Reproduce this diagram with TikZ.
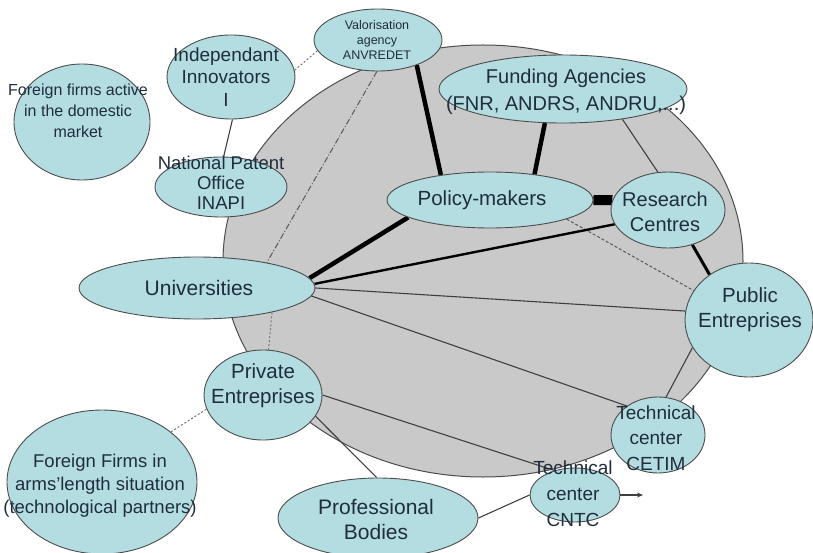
\documentclass[tikz,border=0pt]{standalone}
\usepackage{fontspec}
\setmainfont{Liberation Sans}
\usetikzlibrary{shapes.geometric,arrows.meta}
\pgfdeclarelayer{bg}
\pgfdeclarelayer{edges}
\pgfsetlayers{bg,edges,main}
\definecolor{cyanish}{HTML}{B4DDE2}
\definecolor{coregray}{HTML}{C9C9C9}
\definecolor{textc}{HTML}{1F2D3D}
\newcommand{\fsz}[2]{\fontsize{#1}{#2}\selectfont}
\begin{document}
\begin{tikzpicture}[x=1pt,y=-1pt,
  blob/.style={ellipse, draw=black!70, line width=0.9pt, fill=cyanish, inner sep=0pt},
  txt/.style={align=center, text=textc, inner sep=0pt},
  lnthin/.style={draw=black!75, line width=1.1pt},
  lnmid/.style={draw=black, line width=2.4pt},
  lnthick/.style={draw=black, line width=4.5pt},
  lnbar/.style={draw=black, line width=10pt},
  lndot/.style={draw=black!55, line width=1pt, dash pattern=on 2pt off 2pt},
  lndash/.style={draw=black!65, line width=1pt, dash pattern=on 3pt off 2pt},
  lndashdot/.style={draw=black!65, line width=1pt, dash pattern=on 6pt off 2pt on 1pt off 2pt}]
\useasboundingbox (0,0) rectangle (813,553);
\clip (0,0) rectangle (813,553);

\begin{pgfonlayer}{bg}
\node[ellipse, draw=black!70, line width=1pt, fill=coregray, minimum width=520pt, minimum height=432pt, inner sep=0pt] (core) at (483,261) {};
\end{pgfonlayer}

% ellipses
\node[blob, minimum width=136pt, minimum height=116pt] (ffa) at (82,122) {};
\node[blob, minimum width=128pt, minimum height=84pt] (innov) at (231,77) {};
\node[blob, minimum width=128pt, minimum height=62pt] (anvr) at (378,40) {};
\node[blob, minimum width=132pt, minimum height=60pt] (inapi) at (221,187) {};
\node[blob, minimum width=248pt, minimum height=68pt] (fund) at (563,89) {};
\node[blob, minimum width=206pt, minimum height=56pt] (pol) at (490,200) {};
\node[blob, minimum width=114pt, minimum height=76pt] (res) at (668,210) {};
\node[blob, minimum width=236pt, minimum height=62pt] (uni) at (197,288) {};
\node[blob, minimum width=128pt, minimum height=114pt] (pub) at (749,320) {};
\node[blob, minimum width=118pt, minimum height=90pt] (priv) at (263,395) {};
\node[blob, minimum width=94pt, minimum height=76pt] (cetim) at (658,435) {};
\node[blob, minimum width=90pt, minimum height=54pt] (cntc) at (575,495) {};
\node[blob, minimum width=190pt, minimum height=144pt] (farm) at (102,482) {};
\node[blob, minimum width=200pt, minimum height=80pt] (prof) at (378,518) {};
\coordinate (arrtip) at (643,495);

% connectors
\begin{pgfonlayer}{edges}
\draw[lndot] (innov.6) -- (anvr.190);
\draw[lnthin] (innov.272) -- (inapi.85);
\draw[lnthick] (anvr.-33) -- (pol.153);
\draw[lndashdot] (anvr.268) -- (uni.20);
\draw[lnthick] (fund.-118) -- (pol.30);
\draw[lnthin] (fund.-27) -- (res.105);
\draw[lnbar] (pol.east) -- (res.170);
\draw[lndash] (pol.-14) -- (pub.152);
\draw[lnthick] (uni.5) -- (pol.192);
\draw[lnmid] (uni.2) -- (res.195);
\draw[lnthin] (uni.east) -- (pub.172);
\draw[lnthin] (uni.-4) -- (cetim.137);
\draw[lndot] (uni.-18) -- (priv.83);
\draw[lnthin] (priv.east) -- (cntc.130);
\draw[lnthin] (priv.-22) -- (prof.92);
\draw[lndot] (farm.36) -- (priv.194);
\draw[lnthin] (prof.east) -- (cntc.west);
\draw[lnthick, line width=3pt] (res.-55) -- (pub.131);
\draw[lnthin] (pub.206) -- (cetim.78);
\end{pgfonlayer}
\draw[lnthin, -{Stealth[length=6pt,width=5pt]}] (cntc.east) -- (arrtip);

% texts
\node[txt, font=\fsz{16}{21}] (ffa-t) at (78,111) {Foreign firms active\\in the domestic\\market};
\node[txt, font=\fsz{19}{22.5}] (innov-t) at (226,77) {Independant\\Innovators\\I};
\node[txt, font=\fsz{12.5}{15}] (anvr-t) at (377,40) {Valorisation\\agency\\ANVREDET};
\node[txt, font=\fsz{18.5}{20}] (inapi-t) at (221,183) {National Patent\\Office\\INAPI};
\node[txt, font=\fsz{20}{27}] (fund-t) at (566,92) {Funding Agencies\\(FNR, ANDRS, ANDRU,...)};
\node[txt, font=\fsz{20.5}{25}] (pol-t) at (482,200) {Policy-makers};
\node[txt, font=\fsz{20}{25}] (res-t) at (665,212) {Research\\Centres};
\node[txt, font=\fsz{21}{25}] (uni-t) at (199,288) {Universities};
\node[txt, font=\fsz{20.5}{25}] (pub-t) at (750,310) {Public\\Entreprises};
\node[txt, font=\fsz{20.5}{25}] (priv-t) at (263,386) {Private\\Entreprises};
\node[txt, font=\fsz{19}{25.5}] (cetim-t) at (656,438) {Technical\\center\\CETIM};
\node[txt, font=\fsz{19}{26}] (cntc-t) at (573,494) {Technical\\center\\CNTC};
\node[txt, font=\fsz{18.5}{23}] (farm-t) at (100,486) {Foreign Firms in\\arms'length situation\\(technological partners)};
\node[txt, font=\fsz{21}{25}] (prof-t) at (376,519) {Professional\\Bodies};
\end{tikzpicture}
\end{document}
